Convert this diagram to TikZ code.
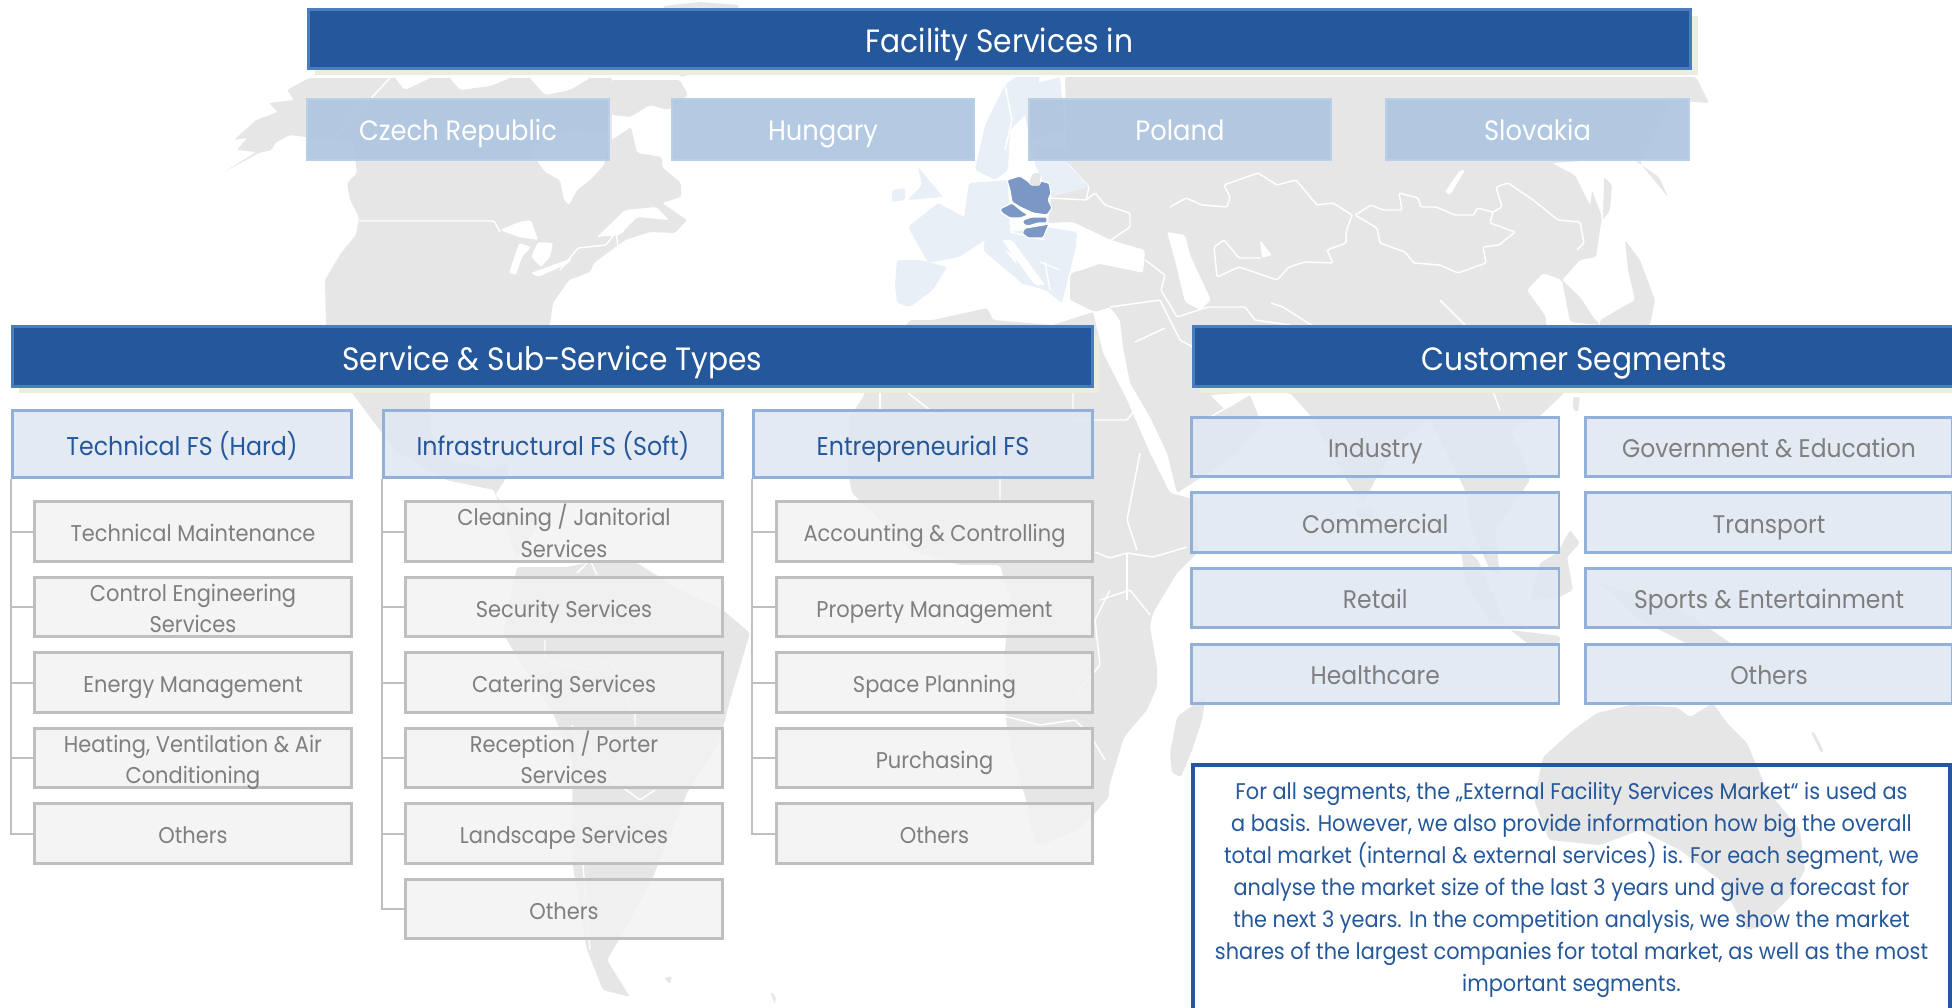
\documentclass[tikz,border=0pt]{standalone}
\usepackage{fontspec}
\setmainfont[FakeStretch=0.92]{Poppins}
\usepackage{xcolor}
\usetikzlibrary{shadows}
\definecolor{fsblue}{HTML}{25589A}
\definecolor{fsedge}{HTML}{4A7EBB}
\definecolor{fsmid}{HTML}{AEC5E0}
\definecolor{fspale}{HTML}{E1E8F2}
\definecolor{fspaleedge}{HTML}{93B1D8}
\definecolor{fsgrey}{HTML}{7F7F7F}
\definecolor{fsbeige}{HTML}{EEECE1}
\definecolor{landgrey}{HTML}{E6E6E6}
\definecolor{europelight}{HTML}{E8EFF7}
\definecolor{regionblue}{HTML}{7B98C4}
\newcommand{\subline}[1]{\raisebox{-7.5pt}[0pt][0pt]{#1}}
\newcommand{\noteline}[1]{\raisebox{-5.2pt}[0pt][0pt]{#1}}
\tikzset{
  boxstrut/.style={execute at begin node={\vrule width0pt height #1 depth 8pt},execute at end node={\vrule width0pt height #1 depth 8pt}},
  banner/.style={draw=fsedge,line width=2.2pt,fill=fsblue,text=white,font=\fontsize{24.2}{26}\selectfont,minimum height=44.5pt,inner sep=0pt,boxstrut=28.6pt,
    drop shadow={fill=fsbeige,opacity=1,shadow xshift=5pt,shadow yshift=-5pt}},
  countrybox/.style={draw=fsmid!85!white,line width=1.5pt,fill=fsmid,fill opacity=.92,text opacity=1,text=white,font=\fontsize{21}{24}\selectfont,minimum width=227pt,minimum height=45.5pt,inner sep=0pt,boxstrut=24.8pt},
  headbox/.style={draw=fspaleedge,line width=1.9pt,fill=fspale,fill opacity=.92,text opacity=1,text=fsblue,font=\fontsize{19.3}{24}\selectfont,minimum width=254pt,minimum height=50.5pt,inner sep=0pt,boxstrut=24.6pt},
  subbox/.style={draw=black!25,line width=2.2pt,fill=black!5,fill opacity=.88,text opacity=1,text=fsgrey,font=\fontsize{17.1}{23.7}\selectfont,minimum width=237.5pt,minimum height=44.5pt,inner sep=0pt,align=center},
  custbox/.style={draw=fspaleedge,line width=2.2pt,fill=fspale,fill opacity=.92,text opacity=1,text=fsgrey,font=\fontsize{19.1}{24}\selectfont,minimum width=275.5pt,minimum height=44.5pt,inner sep=0pt,boxstrut=24pt},
  notebox/.style={draw=fsblue,line width=2.6pt,text=fsblue,font=\fontsize{17}{24}\selectfont,minimum width=568pt,minimum height=186pt,inner sep=0pt,align=center},
  branch/.style={draw=black!25,line width=1.5pt},
  land/.style={fill=landgrey,rounded corners=1.5pt},
  europe/.style={fill=europelight,rounded corners=1.5pt},
  region/.style={fill=regionblue,draw=white,line width=.8pt,rounded corners=1pt},
  sea/.style={fill=white,rounded corners=1.5pt},
  border/.style={draw=white,line width=1.1pt,rounded corners=1pt},
}
\begin{document}
\begin{tikzpicture}[x=0.75pt,y=0.75pt,yscale=-1,xscale=1]
\useasboundingbox (0,0) rectangle (1952,1007);

%map, north america
\path[land] (309,78) -- (287,90) -- (294,100) -- (269,103) -- (278,112) -- (256,120) -- (234,140) -- (247,138) -- (237,150) -- (256,152) -- (224,172) -- (259,153) -- (272,150) -- (275,143) -- (290,135) -- (306,137) -- (334,138) -- (353,143) -- (357,173) -- (347,183) -- (350,200) -- (359,217) -- (356,235) -- (341,253) -- (325,280) -- (326,325) -- (352,393) -- (395,450) -- (446,480) -- (494,490) -- (517,560) -- (540,520) -- (510,510) -- (495,495) -- (505,480) -- (510,462) -- (490,470) -- (450,460) -- (430,430) -- (430,393) -- (470,350) -- (550,325) -- (553,303) -- (569,280) -- (590,272) -- (594,263) -- (625,240) -- (650,232) -- (675,233) -- (687,220) -- (662,203) -- (681,197) -- (681,183) -- (662,167) -- (662,157) -- (637,153) -- (631,127) -- (612,140) -- (612,78) -- cycle;
\path[land] (612,80) -- (680,80) -- (688,95) -- (668,110) -- (650,105) -- (625,120) -- (612,115) -- cycle;
\path[land] (663,6) -- (700,2) -- (739,5) -- (730,40) -- (700,72) -- (680,77) -- cycle;
\path[sea] (531,152) -- (545,172) -- (560,180) -- (564,200) -- (569,205) -- (577,190) -- (590,180) -- (604,165) -- (610,135) -- (575,130) -- (545,135) -- cycle;
\path[sea] (500,230) -- (519,222) -- (531,220) -- (538,240) -- (519,237) -- cycle;
\path[sea] (519,243) -- (531,247) -- (522,257) -- (516,275) -- (509,273) -- cycle;
\path[sea] (538,242) -- (553,243) -- (550,257) -- (541,267) -- (531,257) -- cycle;
\path[sea] (531,273) -- (572,258) -- (569,263) -- (538,277) -- cycle;
\path[sea] (597,237) -- (625,210) -- (656,207) -- (669,220) -- (637,217) -- (620,235) -- cycle;
\path[sea] (612,115) -- (640,118) -- (655,110) -- (660,140) -- (640,150) -- (630,122) -- (612,138) -- cycle;
\path[sea] (340,205) -- (348,212) -- (354,225) -- (344,220) -- cycle;
\path[sea] (395,78) -- (430,78) -- (405,90) -- cycle;
\path[sea] (450,78) -- (510,78) -- (490,86) -- (460,90) -- cycle;
\path[sea] (530,78) -- (590,78) -- (570,90) -- (545,95) -- cycle;
\path[border] (390,78) -- (334,138);
\path[border] (359,221) -- (494,221) -- (500,232);
\path[border] (560,270) -- (578,248) -- (606,245) -- (616,232) -- (618,247);

%map, south america and falklands
\path[land] (517,567) -- (503,633) -- (513,650) -- (553,713) -- (572,760) -- (573,867) -- (587,950) -- (603,990) -- (630,997) -- (607,960) -- (623,933) -- (653,877) -- (687,793) -- (720,740) -- (730,700) -- (750,633) -- (723,610) -- (680,590) -- (637,563) -- (600,560) -- (567,567) -- cycle;
\path[land] (664,978) -- (672,976) -- (670,984) -- cycle;
\path[land] (770,992) -- (776,996) -- (775,1004) -- cycle;
\path[border] (577,573) -- (590,560) -- (597,575);
\path[border] (545,640) -- (545,660) -- (590,670) -- (610,660) -- (635,715) -- (635,745);
\path[border] (572,725) -- (585,760) -- (640,800) -- (655,790);
\path[border] (583,865) -- (590,950);

%map, africa and madagascar
\path[land] (910,320) -- (933,320) -- (987,308) -- (993,320) -- (1053,325) -- (1093,312) -- (1103,353) -- (1127,400) -- (1137,423) -- (1150,453) -- (1170,493) -- (1197,500) -- (1197,553) -- (1177,573) -- (1153,613) -- (1150,627) -- (1157,667) -- (1157,687) -- (1147,710) -- (1124,737) -- (1109,787) -- (1109,797) -- (1095,813) -- (1077,830) -- (1041,845) -- (1034,843) -- (1027,803) -- (1013,757) -- (1006,720) -- (1005,650) -- (1010,600) -- (1000,565) -- (960,565) -- (910,550) -- (880,520) -- (852,493) -- (848,473) -- (850,417) -- (863,397) -- (880,360) -- cycle;
\path[land] (1206,695) -- (1177,717) -- (1170,753) -- (1172,773) -- (1181,777) -- (1191,753) -- (1202,720) -- cycle;
\path[border] (880,393) -- (880,412);
\path[border] (1073,393) -- (1073,420) -- (1127,420) -- (1135,410);
\path[border] (908,393) -- (930,410) -- (1000,470) -- (1000,540);
\path[border] (1095,552) -- (1110,558) -- (1127,553) -- (1153,557) -- (1167,553) -- (1187,547);
\path[border] (1140,453) -- (1127,520) -- (1137,550);
\path[border] (1127,553) -- (1127,600);
\path[border] (1100,600) -- (1130,590) -- (1150,615);
\path[border] (1000,715) -- (1040,725) -- (1075,720) -- (1090,735) -- (1105,760);
\path[border] (1075,695) -- (1100,665) -- (1095,620) -- (1110,590);

%map, eurasia
\path[land] (1065,77) -- (1696,77) -- (1709,103) -- (1671,100) -- (1640,163) -- (1668,197) -- (1659,177) -- (1634,160) -- (1596,160) -- (1552,163) -- (1587,177) -- (1602,217) -- (1596,257) -- (1580,260) -- (1562,280) -- (1580,297) -- (1593,317) -- (1600,325) -- (1570,322) -- (1562,280) -- (1543,273) -- (1527,290) -- (1546,317) -- (1546,325) -- (1564,393) -- (1540,416) -- (1510,430) -- (1520,450) -- (1530,480) -- (1510,510) -- (1495,530) -- (1500,575) -- (1490,570) -- (1472,530) -- (1465,490) -- (1440,440) -- (1430,420) -- (1400,440) -- (1375,480) -- (1363,505) -- (1342,473) -- (1310,415) -- (1290,393) -- (1240,393) -- (1210,395) -- (1225,410) -- (1250,395) -- (1262,425) -- (1230,460) -- (1197,480) -- (1177,493) -- (1167,453) -- (1150,417) -- (1130,383) -- (1123,347) -- (1120,320) -- (1110,307) -- (1095,312) -- (1070,300) -- (1070,275) -- (1090,262) -- (1140,272) -- (1145,250) -- (1111,240) -- (1073,222) -- (1048,223) -- (1051,197) -- (1067,163) -- cycle;
\path[land] (1625,240) -- (1640,260) -- (1655,300) -- (1650,325) -- (1600,345) -- (1600,320) -- (1635,300) -- (1628,270) -- cycle;
\path[land] (1604,177) -- (1612,185) -- (1610,210) -- (1603,220) -- cycle;
\path[land] (1573,397) -- (1580,397) -- (1578,412) -- (1573,410) -- cycle;
\path[land] (1355,510) -- (1372,505) -- (1372,520) -- (1362,522) -- cycle;
\path[sea] (1076,247) -- (1105,250) -- (1145,252) -- (1143,273) -- (1105,262) -- (1076,272) -- cycle;
\path[sea] (1167,232) -- (1185,235) -- (1190,255) -- (1211,300) -- (1200,310) -- (1185,302) -- (1175,260) -- cycle;
\path[sea] (1260,240) -- (1272,255) -- (1262,258) -- cycle;
\path[sea] (1460,170) -- (1465,170) -- (1450,195) -- (1445,192) -- cycle;
\path[sea] (1552,163) -- (1596,165) -- (1590,205) -- (1575,175) -- cycle;
\path[border] (1051,198) -- (1086,200) -- (1095,193) -- (1105,205) -- (1130,213) -- (1130,227) -- (1111,240);
\path[border] (1067,163) -- (1089,187) -- (1086,200);
\path[border] (1170,207) -- (1186,198) -- (1202,205) -- (1227,207) -- (1230,197) -- (1224,185) -- (1258,173) -- (1277,185) -- (1296,180) -- (1317,205) -- (1333,203) -- (1352,215);
\path[border] (1355,215) -- (1371,205) -- (1383,210) -- (1402,210) -- (1399,193) -- (1418,198) -- (1421,207) -- (1436,207) -- (1455,215) -- (1474,215) -- (1477,208) -- (1493,212) -- (1490,223) -- (1515,232) -- (1499,245) -- (1483,247) -- (1486,263) -- (1458,273) -- (1440,265) -- (1414,263) -- (1405,252) -- (1380,243) -- (1377,228) -- cycle;
\path[border] (1352,215) -- (1346,232) -- (1346,243) -- (1327,250) -- (1333,263) -- (1305,262) -- (1289,267) -- (1277,280) -- (1239,267) -- (1217,277) -- (1214,247) -- (1224,240) -- (1239,258) -- (1261,258);
\path[border] (1493,212) -- (1502,207) -- (1496,187) -- (1508,183) -- (1533,200) -- (1558,220) -- (1580,222) -- (1584,243) -- (1577,250);
\path[border] (1145,260) -- (1165,275) -- (1161,290) -- (1177,317) -- (1208,307) -- (1245,307) -- (1255,320);
\path[border] (1271,303) -- (1283,307) -- (1308,323) -- (1320,330) -- (1312,390);
\path[border] (1255,320) -- (1290,325);
\path[border] (1110,307) -- (1160,300) -- (1180,340) -- (1213,358) -- (1240,392);
\path[border] (1135,342) -- (1165,328);
\path[border] (1440,300) -- (1470,330) -- (1500,410);
\path[border] (1205,420) -- (1240,400);

%map, islands and australia
\path[land] (1540,563) -- (1557,553) -- (1570,530) -- (1580,543) -- (1567,557) -- (1573,590) -- (1560,597) -- (1530,600) -- cycle;
\path[land] (1460,543) -- (1478,560) -- (1505,623) -- (1490,623) -- (1465,580) -- cycle;
\path[land] (1510,630) -- (1560,636) -- (1560,643) -- (1530,645) -- cycle;
\path[land] (1600,583) -- (1683,610) -- (1733,645) -- (1690,645) -- (1640,620) -- cycle;
\path[land] (1543,757) -- (1573,730) -- (1597,713) -- (1630,705) -- (1677,707) -- (1690,717) -- (1713,703) -- (1727,723) -- (1747,743) -- (1767,790) -- (1800,830) -- (1805,870) -- (1790,897) -- (1760,927) -- (1746,930) -- (1720,880) -- (1680,850) -- (1640,830) -- (1600,845) -- (1549,840) -- (1534,800) -- cycle;
\path[land] (1811,732) -- (1814,732) -- (1824,752) -- (1821,753) -- cycle;

%map, europe
\path[europe] (897,260) -- (920,260) -- (947,267) -- (933,290) -- (910,307) -- (897,303) -- (895,285) -- cycle;
\path[europe] (908,227) -- (938,203) -- (964,217) -- (969,183) -- (1008,180) -- (1010,232) -- (1045,227) -- (1077,232) -- (1076,247) -- (1070,270) -- (1062,303) -- (1045,290) -- (1020,283) -- (1015,255) -- (985,240) -- (959,257) -- (928,263) -- cycle;
\path[europe] (985,240) -- (1000,245) -- (1030,280) -- (1022,283) -- (1000,265) -- (983,250) -- cycle;
\path[sea] (1002,240) -- (1012,240) -- (1045,285) -- (1035,285) -- cycle;
\path[europe] (918,167) -- (943,197) -- (908,200) -- (922,185) -- cycle;
\path[europe] (892,190) -- (905,188) -- (905,200) -- (892,202) -- cycle;
\path[europe] (975,170) -- (985,125) -- (1005,85) -- (1015,77) -- (1040,77) -- (1030,110) -- (1010,130) -- (1008,170) -- (995,180) -- cycle;
\path[europe] (1030,85) -- (1060,77) -- (1065,130) -- (1030,140) -- (1025,115) -- cycle;
\path[europe] (1035,145) -- (1065,147) -- (1067,163) -- (1089,187) -- (1051,197) -- (1035,165) -- cycle;
\path[border] (1005,85) -- (1012,120) -- (1005,150);
\path[border] (1040,262) -- (1060,270);
\path[border] (1045,262) -- (1050,290);
\path[border] (1010,232) -- (1045,240);

%map, the four countries
\path[region] (1007,180) -- (1020,176) -- (1029,182) -- (1031,185) -- (1040,185) -- (1040,181) -- (1049,183) -- (1051,193) -- (1048,200) -- (1052,208) -- (1047,215) -- (1033,213) -- (1020,207) -- (1012,202) -- (1010,190) -- cycle;
\path[region] (1000,209) -- (1012,203) -- (1022,211) -- (1028,215) -- (1023,217) -- (1020,218) -- (1010,218) -- (1002,213) -- cycle;
\path[region] (1023,220) -- (1032,217) -- (1047,217) -- (1047,223) -- (1038,223) -- (1028,226) -- (1023,224) -- cycle;
\path[region] (1022,233) -- (1025,228) -- (1032,227) -- (1049,224) -- (1043,238) -- (1028,238) -- cycle;
\path[land] (1029,182) -- (1031,185) -- (1040,185) -- (1040,173) -- (1033,173) -- cycle;

%header
\node[banner,minimum width=1037pt] (title) at (999.5,39) {Facility Services in};
\node[countrybox] (czech) at (458,129.5) {Czech Republic};
\node[countrybox] (hungary) at (823,129.5) {Hungary};
\node[countrybox] (poland) at (1180,129.5) {Poland};
\node[countrybox] (slovakia) at (1537.5,129.5) {Slovakia};

\node[banner,minimum width=810pt] (services) at (552.5,356.5) {Service \& Sub-Service Types};
\node[banner,minimum width=571pt] (segments) at (1574,356.5) {Customer Segments};

%service columns
\node[headbox] (techhead) at (182,444) {Technical FS (Hard)};
\node[headbox] (infrahead) at (553,444) {Infrastructural FS (Soft)};
\node[headbox] (entrehead) at (923,444) {Entrepreneurial FS};

\foreach \txt [count=\i] in {\subline{Technical Maintenance},\subline{Control Engineering}\\\subline{Services},\subline{Energy Management},{\subline{Heating, Ventilation \& Air}\\\subline{Conditioning}},\subline{Others}}{
  \pgfmathsetmacro\suby{531.5+75.5*(\i-1)}
  \node[subbox] (techsub\i) at (193,\suby) {\txt};
  \draw[branch] (techhead.south west) |- (techsub\i.west);
}
\foreach \txt [count=\i] in {\subline{Cleaning / Janitorial}\\\subline{Services},\subline{Security Services},\subline{Catering Services},\subline{Reception / Porter}\\\subline{Services},\subline{Landscape Services},\subline{Others}}{
  \pgfmathsetmacro\suby{531.5+75.5*(\i-1)}
  \node[subbox] (infrasub\i) at (564,\suby) {\txt};
  \draw[branch] (infrahead.south west) |- (infrasub\i.west);
}
\foreach \txt [count=\i] in {\subline{Accounting \& Controlling},\subline{Property Management},\subline{Space Planning},\subline{Purchasing},\subline{Others}}{
  \pgfmathsetmacro\suby{531.5+75.5*(\i-1)}
  \node[subbox] (entresub\i) at (934.5,\suby) {\txt};
  \draw[branch] (entrehead.south west) |- (entresub\i.west);
}

%customer segments
\foreach \txt [count=\i] in {Industry,Commercial,Retail,Healthcare}{
  \pgfmathsetmacro\custy{447+75.6*(\i-1)}
  \node[custbox] (custleft\i) at (1375.3,\custy) {\txt};
}
\foreach \txt [count=\i] in {Government \& Education,Transport,Sports \& Entertainment,Others}{
  \pgfmathsetmacro\custy{447+75.6*(\i-1)}
  \node[custbox] (custright\i) at (1769,\custy) {\txt};
}

\node[notebox] (note) at (1571.5,889) {\noteline{For all segments, the „External Facility Services Market“ is used as}\\
\noteline{a basis. However, we also provide information how big the overall}\\
\noteline{total market (internal \& external services) is. For each segment, we}\\
\noteline{analyse the market size of the last 3 years und give a forecast for}\\
\noteline{the next 3 years. In the competition analysis, we show the market}\\
\noteline{shares of the largest companies for total market, as well as the most}\\
\noteline{important segments.}};
\end{tikzpicture}
\end{document}
